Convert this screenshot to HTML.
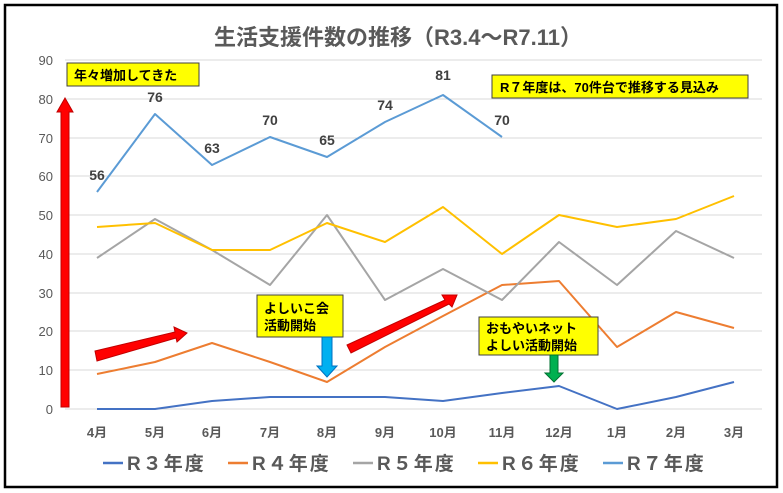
<!DOCTYPE html>
<html><head><meta charset="utf-8"><style>
body{margin:0;background:#fff}
svg{display:block}
text{font-family:"Liberation Sans","Noto Sans CJK JP",sans-serif}
</style></head><body>
<svg width="783" height="493" viewBox="0 0 783 493" xmlns="http://www.w3.org/2000/svg">
<rect x="0" y="0" width="783" height="493" fill="#fff"/>
<rect x="5" y="5" width="772" height="482" fill="none" stroke="#000" stroke-width="2.5"/>
<text x="398" y="45" font-size="22" font-weight="bold" fill="#595959" text-anchor="middle">生活支援件数の推移（R3.4～R7.11）</text>
<g stroke="#d9d9d9" stroke-width="1">
<line x1="65" y1="60" x2="762" y2="60"/><line x1="65" y1="99" x2="762" y2="99"/><line x1="65" y1="138" x2="762" y2="138"/><line x1="65" y1="176" x2="762" y2="176"/><line x1="65" y1="215" x2="762" y2="215"/><line x1="65" y1="254" x2="762" y2="254"/><line x1="65" y1="293" x2="762" y2="293"/><line x1="65" y1="331" x2="762" y2="331"/><line x1="65" y1="370" x2="762" y2="370"/><line x1="65" y1="409" x2="762" y2="409"/>
</g>
<g font-size="13" fill="#595959" text-anchor="end">
<text x="53" y="65">90</text><text x="53" y="104">80</text><text x="53" y="143">70</text><text x="53" y="181">60</text><text x="53" y="220">50</text><text x="53" y="259">40</text><text x="53" y="298">30</text><text x="53" y="336">20</text><text x="53" y="375">10</text><text x="53" y="414">0</text>
</g>
<g font-size="13" fill="#595959" text-anchor="middle" font-weight="bold">
<text x="97" y="437">4月</text><text x="155" y="437">5月</text><text x="212" y="437">6月</text><text x="270" y="437">7月</text><text x="327" y="437">8月</text><text x="385" y="437">9月</text><text x="443" y="437">10月</text><text x="502" y="437">11月</text><text x="559" y="437">12月</text><text x="617" y="437">1月</text><text x="676" y="437">2月</text><text x="734" y="437">3月</text>
</g>
<g fill="none" stroke-width="2" stroke-linejoin="round">
<polyline stroke="#4472c4" points="97,409 155,409 212,401 270,397 327,397 385,397 443,401 502,393 559,386 617,409 676,397 734,382"/>
<polyline stroke="#ed7d31" points="97,374 155,362 212,343 270,362 327,382 385,347 443,316 502,285 559,281 617,347 676,312 734,328"/>
<polyline stroke="#a5a5a5" points="97,258 155,219 212,250 270,285 327,215 385,300 443,269 502,300 559,242 617,285 676,231 734,258"/>
<polyline stroke="#ffc000" points="97,227 155,223 212,250 270,250 327,223 385,242 443,207 502,254 559,215 617,227 676,219 734,196"/>
<polyline stroke="#5b9bd5" points="97,192 155,114 212,165 270,137 327,157 385,122 443,95 502,137"/>
</g>
<g font-size="14" fill="#404040" text-anchor="middle" font-weight="bold">
<text x="97" y="180">56</text><text x="155" y="102">76</text><text x="212" y="153">63</text><text x="270" y="125">70</text><text x="327" y="145">65</text><text x="385" y="110">74</text><text x="443" y="80">81</text><text x="502" y="125">70</text>
</g>
<rect x="67" y="63" width="132" height="23" fill="#ffff00" stroke="#404040" stroke-width="1"/>
<text x="74" y="80" font-size="13" font-weight="bold" fill="#000">年々増加してきた</text>
<rect x="492" y="75" width="256" height="23" fill="#ffff00" stroke="#404040" stroke-width="1"/>
<text x="500" y="92" font-size="13" font-weight="bold" fill="#000">R７年度は、70件台で推移する見込み</text>
<polygon points="61,407 61,112 57,112 65,98 73,112 69,112 69,407" fill="#ff0000" stroke="#c00000" stroke-width="1"/>
<polygon points="95,351 175,332 174,327 187,333 177,342 176,338 97,361" fill="#ff0000" stroke="#c00000" stroke-width="1"/>
<polygon points="347,345 445,300 442,295 457,295 452,307 449,304 351,353" fill="#ff0000" stroke="#c00000" stroke-width="1"/>
<rect x="257" y="295" width="86" height="42" fill="#ffff00" stroke="#404040" stroke-width="1"/>
<text x="264" y="313" font-size="13" font-weight="bold" fill="#000">よしいこ会</text>
<text x="264" y="330" font-size="13" font-weight="bold" fill="#000">活動開始</text>
<polygon points="322,337 332,337 332,366 337,366 327,377 317,366 322,366" fill="#00b0f0" stroke="#0070c0" stroke-width="1"/>
<rect x="479" y="317" width="119" height="38" fill="#ffff00" stroke="#404040" stroke-width="1"/>
<text x="486" y="333" font-size="13" font-weight="bold" fill="#000">おもやいネット</text>
<text x="486" y="350" font-size="13" font-weight="bold" fill="#000">よしい活動開始</text>
<polygon points="550,355 558,355 558,373 563,373 554,382 545,373 550,373" fill="#00b050" stroke="#007030" stroke-width="1"/>
<g font-size="19" fill="#595959" font-weight="bold" letter-spacing="2">
<line x1="103" y1="463" x2="123" y2="463" stroke="#4472c4" stroke-width="2.5"/><text x="127" y="470">R３年度</text>
<line x1="228" y1="463" x2="248" y2="463" stroke="#ed7d31" stroke-width="2.5"/><text x="252" y="470">R４年度</text>
<line x1="353" y1="463" x2="373" y2="463" stroke="#a5a5a5" stroke-width="2.5"/><text x="377" y="470">R５年度</text>
<line x1="478" y1="463" x2="498" y2="463" stroke="#ffc000" stroke-width="2.5"/><text x="502" y="470">R６年度</text>
<line x1="603" y1="463" x2="623" y2="463" stroke="#5b9bd5" stroke-width="2.5"/><text x="627" y="470">R７年度</text>
</g>
</svg>
</body></html>
